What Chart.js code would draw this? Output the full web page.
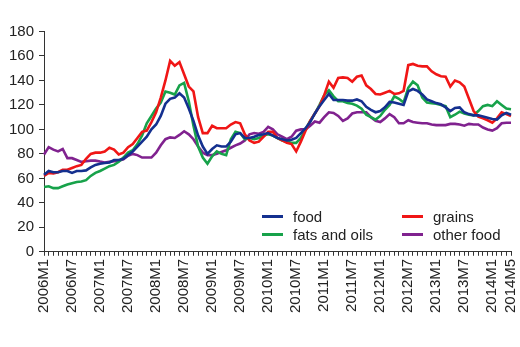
<!DOCTYPE html>
<html>
<head>
<meta charset="utf-8">
<script src="https://cdn.jsdelivr.net/npm/chart.js@4.4.1/dist/chart.umd.min.js"></script>
<style>
  body { margin: 0; background: #fff; }
  #wrap { position: relative; width: 520px; height: 347px; }
  #legend {
    position: absolute; left: 262px; top: 208px;
    display: grid; grid-template-columns: 140px 110px; row-gap: 0px;
    font-family: "Liberation Sans", Arial, sans-serif; font-size: 15px; color: #222;
  }
  #legend .item { display: flex; align-items: center; height: 17.5px; white-space: nowrap; }
  #legend .swatch { width: 21px; height: 3px; margin-right: 10px; }
</style>
</head>
<body>
<div id="wrap">
  <canvas id="chart" width="520" height="347"></canvas>
  <div id="legend"></div>
</div>
<script>
// monthly index, 2006M1 .. 2014M5
const startYear = 2006;
const monthCount = 101;
const months = [];
for (let i = 0; i < monthCount; i++) {
    months.push((startYear + Math.floor(i / 12)) + "M" + (i % 12 + 1));
}

const food = [
    63, 66, 65, 65, 66, 66, 64.5, 66, 66, 66.5,
    69, 71, 72, 72.5, 73, 75, 75, 76, 79, 82,
    86, 90, 94, 100, 104, 111, 121, 125, 126, 129.5,
    126, 117, 107, 95, 86, 80, 84, 87, 86, 86,
    90, 96, 97, 93, 93, 94, 95.5, 96, 97, 95,
    93, 92, 91, 91.5, 93, 97, 101, 106, 113, 119,
    124, 129, 124, 124, 124, 123.5, 123.5, 124.5, 123, 118.5,
    116, 114, 115, 118, 122.5, 122, 121, 120, 131, 133,
    131.5, 128.5, 124.5, 123, 121.5, 120.5, 118, 115, 117.5, 118,
    114, 112.5, 111.5, 111.5, 110.5, 109.5, 108.5, 108, 111.5, 113.5, 112
];

const grains = [
    62, 64.5, 64, 65, 67, 67, 68.5, 70, 71, 76,
    80, 81, 81, 82, 85, 83.5, 79.5, 81, 85.5, 88,
    93, 98, 99, 106, 114, 126, 140, 156, 152, 155,
    145, 135, 131, 110, 97, 97, 103, 101, 101, 101,
    104, 106, 105, 96, 91, 89, 90, 94, 98, 98,
    93, 91, 89, 88, 82, 90, 99, 107, 113, 119,
    128, 139, 134, 142, 142.5, 142, 139, 143, 144, 136,
    133, 129, 128.5, 130, 131.5, 129, 129.5, 131.5, 152.5, 153.5,
    152, 151.5, 151.5, 147.5, 145, 143.5, 143, 135, 140, 138.5,
    135, 125, 115, 110.5, 109, 107.5, 105.5, 109, 114, 112.5, 111
];

const fatsOils = [
    53, 53.5, 52, 52, 53.5, 55, 56, 57, 57.5, 58.5,
    62, 64.5, 66, 68, 70, 71, 73.5, 77, 81, 83,
    88, 95, 105, 111, 117, 122, 131, 130, 128.5, 136,
    138, 123, 103, 86, 77, 72, 78, 82, 80, 79,
    92, 98, 97, 92, 93, 92, 93, 95, 96, 95,
    93, 91, 90, 89, 89, 93, 100, 107, 113, 120,
    128, 132, 127, 123, 123, 121.5, 121, 119.5, 117, 112,
    110, 108, 111, 116, 120, 127, 125, 122, 134, 139,
    136, 126, 122, 121.5, 121, 120, 119, 110, 112, 114.5,
    113, 112, 111.5, 115, 119, 120, 119, 123, 120, 117, 116.5
];

const otherFood = [
    79.5, 85.5, 83.5, 82, 84, 76.5, 76.5, 75, 73.5, 74,
    74.5, 74.5, 73.7, 73, 73.5, 74, 74.5, 75.5, 78.5, 80,
    79, 77, 77, 77, 81, 87, 92, 93.5, 93, 95.5,
    98.5, 96, 92, 86, 81, 79, 79, 80, 81.5, 83,
    85, 87, 88.5, 91, 96, 97, 96.5, 98, 102, 100,
    96, 94, 92, 94, 99, 100, 100, 103, 106.5, 105.5,
    110, 114, 113.5, 111, 107, 109, 113, 114, 114, 114,
    110, 107, 106, 109, 112.5, 110, 105, 105, 107.5, 106,
    105.5, 105, 105, 104, 103.5, 103.5, 103.5, 104.5, 104.5, 104,
    103, 104.5, 104, 104, 101.5, 100, 99, 101, 105, 105.5, 105.5
];

const seriesNames = ["food", "grains", "fats and oils", "other food"];
const seriesColors = ["#14308f", "#f01616", "#17a24a", "#80228f"];
const seriesData = [food, grains, fatsOils, otherFood];

const yTicks = [0, 20, 40, 60, 80, 100, 120, 140, 160, 180];

const axisFont = { family: "'Liberation Sans', Arial, sans-serif", size: 15 };

const chart = new Chart(document.getElementById("chart"), {
    type: "line",
    data: {
        labels: months,
        datasets: seriesData.map((d, k) => ({
            label: seriesNames[k],
            data: d,
            borderColor: seriesColors[k],
            backgroundColor: seriesColors[k],
            borderWidth: 2.6,
            pointRadius: 0,
            tension: 0,
            fill: false,
        })),
    },
    options: {
        responsive: false,
        animation: false,
        devicePixelRatio: 1,
        layout: {
            padding: { top: 31.5, left: 4, right: 2, bottom: 31 },
        },
        plugins: {
            legend: { display: false },
            tooltip: { enabled: false },
        },
        scales: {
            x: {
                offset: false,
                // rotated labels reserve a full label height on the right; keep it small
                afterFit: (scale) => { scale.paddingRight = 9; },
                ticks: {
                    autoSkip: false,
                    maxRotation: 90,
                    minRotation: 90,
                    font: axisFont,
                    color: "#222",
                    padding: 3,
                    callback: (v, i) => (i % 6 === 0 || i === months.length - 1) ? months[i] : "",
                },
                grid: {
                    drawOnChartArea: false,
                    drawTicks: true,
                    tickLength: 4,
                    color: "#333",
                },
                border: { color: "#333", width: 1 },
            },
            y: {
                min: yTicks[0],
                max: yTicks[yTicks.length - 1],
                afterBuildTicks: (axis) => { axis.ticks = yTicks.map(v => ({ value: v })); },
                ticks: {
                    font: axisFont,
                    color: "#222",
                    padding: 5,
                },
                grid: {
                    drawOnChartArea: false,
                    drawTicks: true,
                    tickLength: 5,
                    color: "#333",
                },
                border: { color: "#333", width: 1 },
            },
        },
    },
});

// legend: two columns, food / fats and oils on the left, grains / other food on the right
const legendEl = document.getElementById("legend");
seriesNames.forEach((name, k) => {
    const item = document.createElement("div");
    item.className = "item";
    const sw = document.createElement("span");
    sw.className = "swatch";
    sw.style.background = seriesColors[k];
    const txt = document.createElement("span");
    txt.textContent = name;
    item.appendChild(sw);
    item.appendChild(txt);
    legendEl.appendChild(item);
});
</script>
</body>
</html>
